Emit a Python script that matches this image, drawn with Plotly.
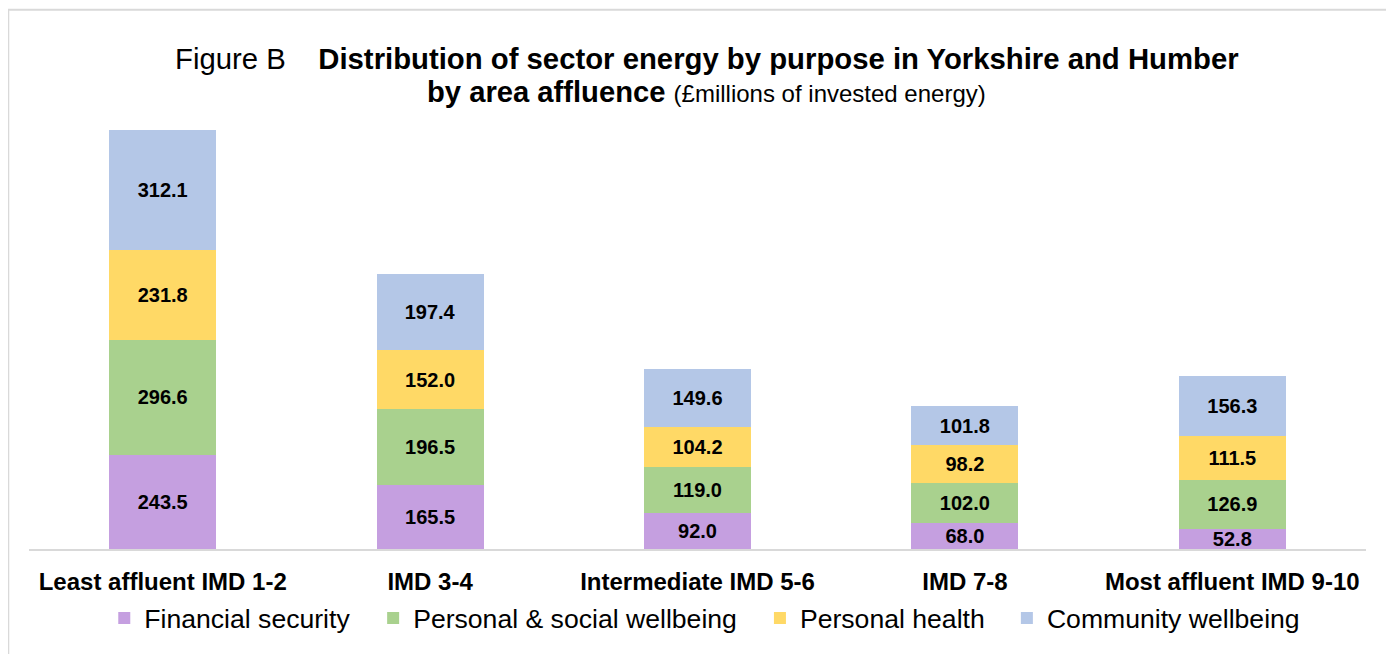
import plotly.graph_objects as go

categories = ["Least affluent IMD 1-2", "IMD 3-4", "Intermediate IMD 5-6", "IMD 7-8", "Most affluent IMD 9-10"]
financial_security = [243.5, 165.5, 92.0, 68.0, 52.8]
personal_social = [296.6, 196.5, 119.0, 102.0, 126.9]
personal_health = [231.8, 152.0, 104.2, 98.2, 111.5]
community = [312.1, 197.4, 149.6, 101.8, 156.3]

series = [
    ("Financial security", financial_security, "#C59FE0", "legend", 0.0563),
    ("Personal & social wellbeing", personal_social, "#A9D18E", "legend2", 0.2574),
    ("Personal health", personal_health, "#FFD966", "legend3", 0.5467),
    ("Community wellbeing", community, "#B4C7E7", "legend4", 0.7314),
]

FONT = "Liberation Sans, Arial, sans-serif"

fig = go.Figure()
for name, vals, color, lg, _ in series:
    fig.add_trace(go.Bar(
        x=categories, y=vals, name=name, legend=lg,
        marker=dict(color=color, line=dict(width=0)),
        text=[f"{v:.1f}" for v in vals],
        textposition="inside", insidetextanchor="middle", textangle=0,
        textfont=dict(family=FONT, size=20, color="black", weight="bold"),
        hoverinfo="skip",
    ))

legend_common = dict(orientation="h", yanchor="middle", y=-0.1544, xanchor="left",
                     font=dict(family=FONT, size=26.6, color="black"),
                     bgcolor="rgba(0,0,0,0)", borderwidth=0)
layout_legends = {}
for name, vals, color, lg, lx in series:
    layout_legends[lg] = dict(legend_common, x=lx)

fig.update_layout(
    width=1386, height=646,
    barmode="stack", bargap=0.6,
    margin=dict(l=20.75, r=27.75, t=92, b=101),
    paper_bgcolor="white", plot_bgcolor="white",
    font=dict(family=FONT, color="black"),
    uniformtext=dict(minsize=20, mode="show"),
    showlegend=True,
    xaxis=dict(showline=True, linecolor="#D9D9D9", linewidth=2, ticks="", showgrid=False,
               ticklabelstandoff=10,
               tickfont=dict(family=FONT, size=24, color="black", weight="bold")),
    yaxis=dict(visible=False, range=[0, 1161], showgrid=False, zeroline=False),
    annotations=[
        dict(xref="paper", yref="paper", x=0.5071, y=1.0927, xanchor="center", yanchor="middle",
             showarrow=False,
             text="Figure B\u00a0\u00a0\u00a0\u00a0<b>Distribution of sector energy by purpose in Yorkshire and Humber</b>",
             font=dict(family=FONT, size=29.3, color="black")),
        dict(xref="paper", yref="paper", x=0.5071, y=1.0177, xanchor="center", yanchor="middle",
             showarrow=False,
             text="<b>by area affluence</b> <span style='font-size:24px'>(£millions of invested energy)</span>",
             font=dict(family=FONT, size=29.2, color="black")),
    ],
    shapes=[
        dict(type="path", xref="paper", yref="paper",
             path="M -0.0155,-0.4 L -0.0155,1.2009 L 1.1,1.2009",
             line=dict(color="#D9D9D9", width=2)),
    ],
    **layout_legends,
)

fig.write_html("out.html")
